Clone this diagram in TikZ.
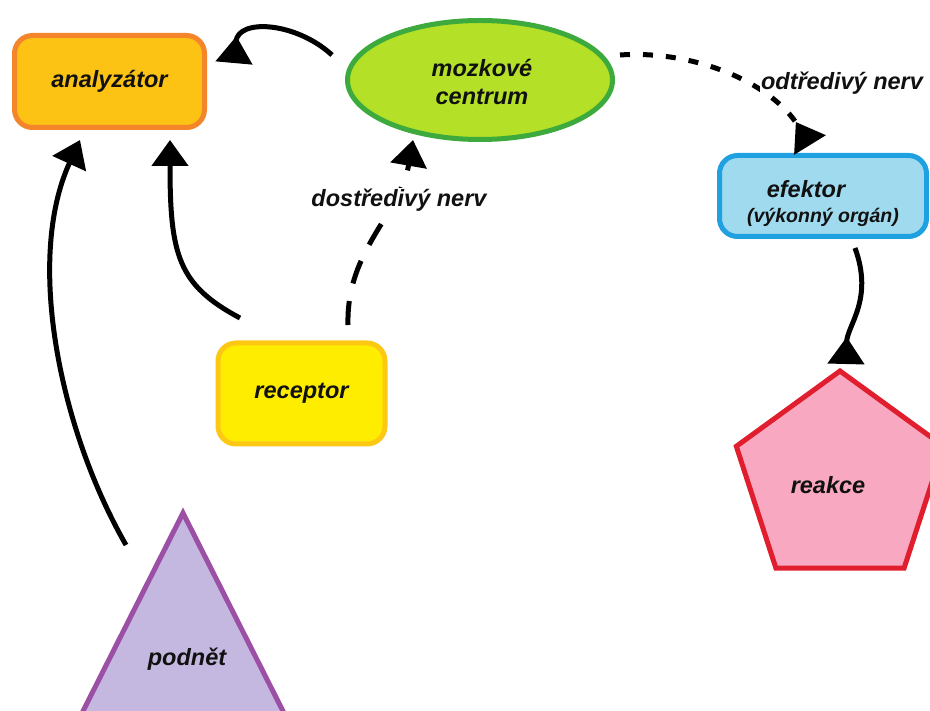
\documentclass[tikz,border=0pt]{standalone}
\usepackage{fontspec}
\setmainfont{Liberation Sans}
\usetikzlibrary{shapes.geometric,arrows.meta,calc}
\definecolor{anaF}{HTML}{FCC214}
\definecolor{anaD}{HTML}{F4852A}
\definecolor{mozF}{HTML}{B4E028}
\definecolor{mozD}{HTML}{3CAA3C}
\definecolor{efF}{HTML}{A0DAEE}
\definecolor{efD}{HTML}{1EA0E1}
\definecolor{recF}{HTML}{FFED00}
\definecolor{recD}{HTML}{FCC814}
\definecolor{reaF}{HTML}{F8A8C0}
\definecolor{reaD}{HTML}{E11E2D}
\definecolor{podF}{HTML}{C5B8E0}
\definecolor{podD}{HTML}{9B50A5}
\definecolor{txt}{HTML}{111111}
\tikzset{
  lbl/.style={font=\fontsize{23.5}{26}\selectfont\bfseries\itshape, text=txt},
  boxstyle/.style={rounded corners=18pt, line width=5pt, inner sep=0pt},
  conn/.style={line width=5pt, draw=black, line cap=butt},
  upTip/.style={-{Triangle[length=26pt,width=36pt]}},
  revTip/.style={-{Triangle[length=27pt,width=36pt,reversed]}},
  longdash/.style={dash pattern=on 24pt off 18pt},
  shortdash/.style={dash pattern=on 10pt off 13pt},
}
\begin{document}
\begin{tikzpicture}[x=1pt,y=-1pt]
\useasboundingbox (0,0) rectangle (930,711);
\clip (0,0) rectangle (930,711);
\fill[white] (0,0) rectangle (930,711);

% nodes
\node[boxstyle, draw=anaD, fill=anaF, minimum width=190pt, minimum height=92pt, lbl] (ana) at (109.5,81.5) {analyzátor};
\node[ellipse, draw=mozD, fill=mozF, line width=5pt, minimum width=265pt, minimum height=119pt, inner sep=0pt] (moz) at (480,80) {};
\node[lbl, align=center] (mozt) at (482,82) {mozkové\\[2pt]centrum};
\node[boxstyle, draw=efD, fill=efF, minimum width=207pt, minimum height=81pt] (ef) at (823,196) {};
\node[lbl] (eft) at (806,189) {efektor};
\node[lbl, font=\fontsize{19.5}{22}\selectfont\bfseries\itshape] (efs) at (823,217) {(výkonný orgán)};
\node[boxstyle, draw=recD, fill=recF, minimum width=167pt, minimum height=101pt, lbl] (rec) at (301.5,393.5) {receptor};
\node[regular polygon, regular polygon sides=5, minimum size=218pt, inner sep=0pt, draw=reaD, fill=reaF, line width=5pt] (rea) at (840,480) {};
\node[lbl] (reat) at (828,485) {reakce};
\coordinate (podA) at (183,513);
\fill[podF, draw=podD, line width=5pt, line join=miter] (podA) -- (76,725) -- (290,725) -- cycle;
\node[lbl] (pod) at (187,659) {podnět};

% connector endpoints
\coordinate (s1) at (332,55);
\coordinate (t1) at (234,63);
\coordinate (s2) at (240,318);
\coordinate (t2) at (170,140);
\coordinate (s3) at (126,545);
\coordinate (t3) at (80,140);
\coordinate (s4) at (348,325);
\coordinate (t4) at (413,140);
\coordinate (s5) at (620,55);
\coordinate (t5) at (810,145);
\coordinate (s6) at (855,248);
\coordinate (t6) at (846,364);

% connectors
\draw[conn, revTip] (s1) .. controls (296,22) and (238,18) .. (t1);
\draw[conn, upTip] (s2) .. controls (178,285) and (170,255) .. (t2);
\draw[conn, upTip] (s3) .. controls (60,430) and (25,260) .. (t3);
\draw[conn, upTip, longdash] (s4) .. controls (346,250) and (400,215) .. (t4);
\draw[conn, revTip, shortdash] (s5) .. controls (690,50) and (770,80) .. (t5);
\draw[conn, revTip] (s6) .. controls (874,300) and (847,325) .. (t6);

% connector labels
\node[lbl, fill=white, inner sep=1pt] (l1) at (399,200) {dostředivý nerv};
\node[lbl, fill=white, inner sep=1pt] (l2) at (842,83) {odtředivý nerv};
\end{tikzpicture}
\end{document}
